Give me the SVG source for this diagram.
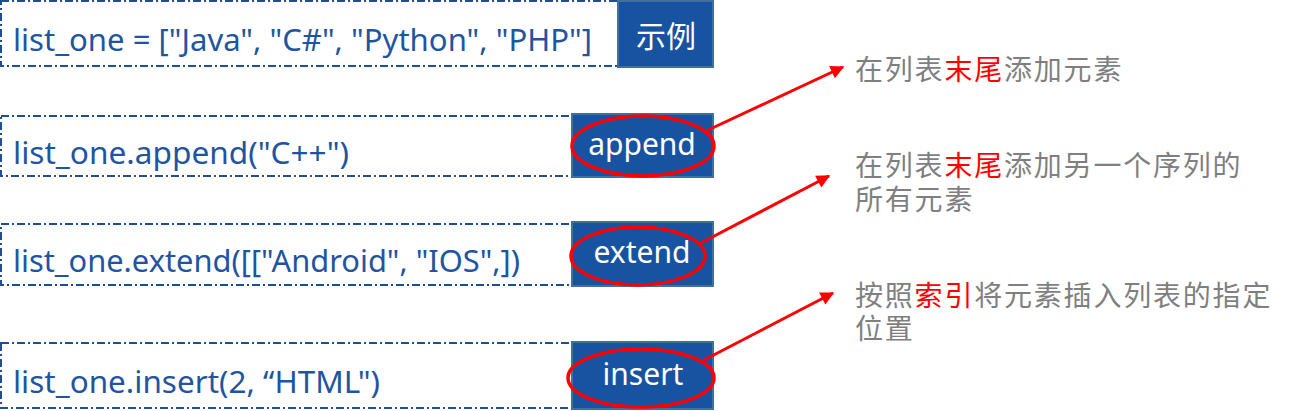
<svg xmlns="http://www.w3.org/2000/svg" width="1292" height="411" viewBox="0 0 1292 411">
<defs>
<style>
.dash{fill:none;stroke:#1f4e96;stroke-width:2;stroke-dasharray:8 3 2 3}
.code{font-family:"Noto Sans","Open Sans","DejaVu Sans",sans-serif;font-size:31px;fill:#1f55a0}
.btn{fill:#1753a1;stroke:#41709e;stroke-width:2}
.btxt{font-family:"Noto Sans","Noto Sans CJK SC",sans-serif;font-size:30px;fill:#ffffff;text-anchor:middle}
.ring{fill:none;stroke:#ff0000;stroke-width:3.5}
.note{font-family:"Noto Sans CJK SC","Noto Sans",sans-serif;font-size:28px;fill:#7f7f7f;letter-spacing:1.8px}
.hl{fill:#ff0000}
.arr{stroke:#ff0000;stroke-width:3;fill:none;marker-end:url(#ah)}
</style>
<marker id="ah" viewBox="0 0 10 10" refX="9" refY="5" markerWidth="5" markerHeight="4.5" orient="auto" markerUnits="strokeWidth">
<path d="M0,0 L10,5 L0,10 z" fill="#ff0000"/>
</marker>
</defs>

<g id="node-example">
<rect class="dash" x="1" y="1" width="617" height="65"/>
<text class="code" x="13" y="51" textLength="579" lengthAdjust="spacingAndGlyphs">list_one = ["Java", "C#", "Python", "PHP"]</text>
<rect class="btn" x="618" y="1" width="95" height="66"/>
<text class="btxt" x="666" y="47" font-family="Noto Sans CJK SC, sans-serif">示例</text>
</g>

<g id="node-append">
<rect class="dash" x="1" y="116" width="571" height="60"/>
<text class="code" x="13" y="164" textLength="336" lengthAdjust="spacingAndGlyphs">list_one.append("C++")</text>
<rect class="btn" x="572" y="114" width="141" height="63"/>
<text class="btxt" x="642" y="155">append</text>
<ellipse class="ring" cx="643" cy="146" rx="71" ry="30"/>
</g>

<g id="node-extend">
<rect class="dash" x="1" y="224" width="571" height="61"/>
<text class="code" x="13" y="272" textLength="507" lengthAdjust="spacingAndGlyphs">list_one.extend([["Android", "IOS",])</text>
<rect class="btn" x="572" y="222" width="141" height="64"/>
<text class="btxt" x="642" y="263">extend</text>
<ellipse class="ring" cx="638" cy="256" rx="67" ry="29"/>
</g>

<g id="node-insert">
<rect class="dash" x="1" y="343" width="571" height="65"/>
<text class="code" x="13" y="393" textLength="367" lengthAdjust="spacingAndGlyphs">list_one.insert(2, “HTML")</text>
<rect class="btn" x="572" y="342" width="141" height="67"/>
<text class="btxt" x="643" y="385">insert</text>
<ellipse class="ring" cx="641" cy="378" rx="73" ry="29"/>
</g>

<g id="connectors">
<line class="arr" x1="706" y1="131" x2="843" y2="67"/>
<line class="arr" x1="699" y1="244" x2="829" y2="176"/>
<line class="arr" x1="704" y1="360" x2="833" y2="293"/>
</g>

<g id="note-append">
<text class="note" x="855" y="80">在列表<tspan class="hl">末尾</tspan>添加元素</text>
</g>
<g id="note-extend">
<text class="note" x="855" y="176">在列表<tspan class="hl">末尾</tspan>添加另一个序列的<tspan x="855" dy="34">所有元素</tspan></text>
</g>
<g id="note-insert">
<text class="note" x="855" y="306">按照<tspan class="hl">索引</tspan>将元素插入列表的指定<tspan x="855" dy="33">位置</tspan></text>
</g>
</svg>
